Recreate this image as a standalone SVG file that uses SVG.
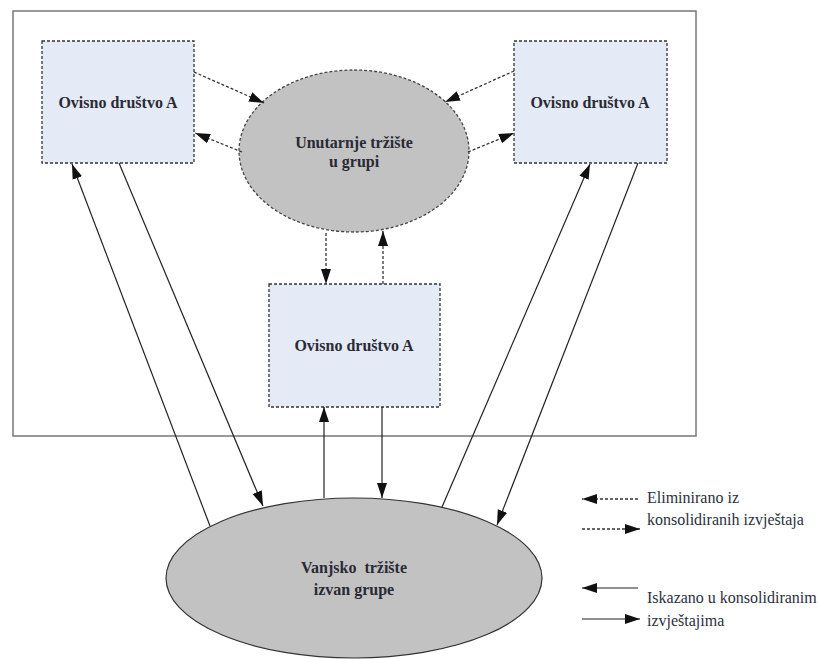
<svg xmlns="http://www.w3.org/2000/svg" width="818" height="659" viewBox="0 0 818 659">
<style>
.box{fill:#e5ebf6;stroke:#333;stroke-width:1.3;stroke-dasharray:3 2}
.ell{fill:#c2c2c2;stroke:#444;stroke-width:1.3;stroke-dasharray:3 2}
.ellS{fill:#c2c2c2;stroke:#333;stroke-width:1.2}
.lbl{font-family:"Liberation Serif","DejaVu Serif",serif;font-weight:bold;font-size:16px;fill:#2a2a35;text-anchor:middle}
.leg{font-family:"Liberation Serif","DejaVu Serif",serif;font-size:16px;fill:#2a3040}
.sol{stroke:#222;stroke-width:1.2;fill:none;marker-end:url(#ah)}
.dash{stroke:#333;stroke-width:1.3;fill:none;stroke-dasharray:3 2;marker-end:url(#ah)}
</style>
<defs>
<marker id="ah" markerUnits="userSpaceOnUse" markerWidth="16" markerHeight="12" viewBox="0 0 16 12" refX="15" refY="6" orient="auto">
<path d="M0,1 L15,6 L0,11 Z" fill="#111"/>
</marker>
</defs>
<rect x="0" y="0" width="818" height="659" fill="#fff"/>
<rect id="frame" x="13" y="11" width="683" height="425" fill="none" stroke="#777" stroke-width="1.5"/>

<g id="node-left">
<rect class="box" x="42" y="41" width="152" height="122"/>
<text class="lbl" x="118" y="108">Ovisno društvo A</text>
</g>
<g id="node-right">
<rect class="box" x="514" y="41" width="153" height="122"/>
<text class="lbl" x="590" y="108">Ovisno društvo A</text>
</g>
<g id="node-middle">
<rect class="box" x="269" y="284" width="171" height="123"/>
<text class="lbl" x="354" y="351">Ovisno društvo A</text>
</g>
<g id="node-internal">
<ellipse class="ell" cx="354" cy="151" rx="115" ry="81"/>
<text class="lbl" x="354" y="148">Unutarnje tržište</text>
<text class="lbl" x="354" y="167">u grupi</text>
</g>
<g id="node-external">
<ellipse class="ellS" cx="354" cy="578" rx="188" ry="80"/>
<text class="lbl" x="354" y="573" xml:space="preserve">Vanjsko  tržište</text>
<text class="lbl" x="354" y="595">izvan grupe</text>
</g>

<g id="connectors">
<line class="dash" x1="194" y1="72" x2="264" y2="103"/>
<line class="dash" x1="242" y1="152" x2="195" y2="133"/>
<line class="dash" x1="514" y1="71" x2="445" y2="102"/>
<line class="dash" x1="468" y1="152" x2="514" y2="133"/>
<line class="dash" x1="326" y1="233" x2="326" y2="284"/>
<line class="dash" x1="383" y1="284" x2="383" y2="231"/>
<line class="sol" x1="324" y1="498" x2="324" y2="407"/>
<line class="sol" x1="382" y1="407" x2="382" y2="498"/>
<line class="sol" x1="210" y1="526" x2="72" y2="164"/>
<line class="sol" x1="119" y1="163" x2="263" y2="506"/>
<line class="sol" x1="442" y1="507" x2="590" y2="164"/>
<line class="sol" x1="638" y1="163" x2="497" y2="525"/>
</g>

<g id="legend">
<line class="dash" x1="638" y1="499" x2="582" y2="499"/>
<line class="dash" x1="582" y1="529" x2="640" y2="529"/>
<line class="sol" x1="638" y1="588" x2="582" y2="588"/>
<line class="sol" x1="582" y1="619" x2="640" y2="619"/>
<text class="leg" x="647" y="503">Eliminirano iz</text>
<text class="leg" x="647" y="525">konsolidiranih izvještaja</text>
<text class="leg" x="647" y="603">Iskazano u konsolidiranim</text>
<text class="leg" x="647" y="626">izvještajima</text>
</g>
</svg>
